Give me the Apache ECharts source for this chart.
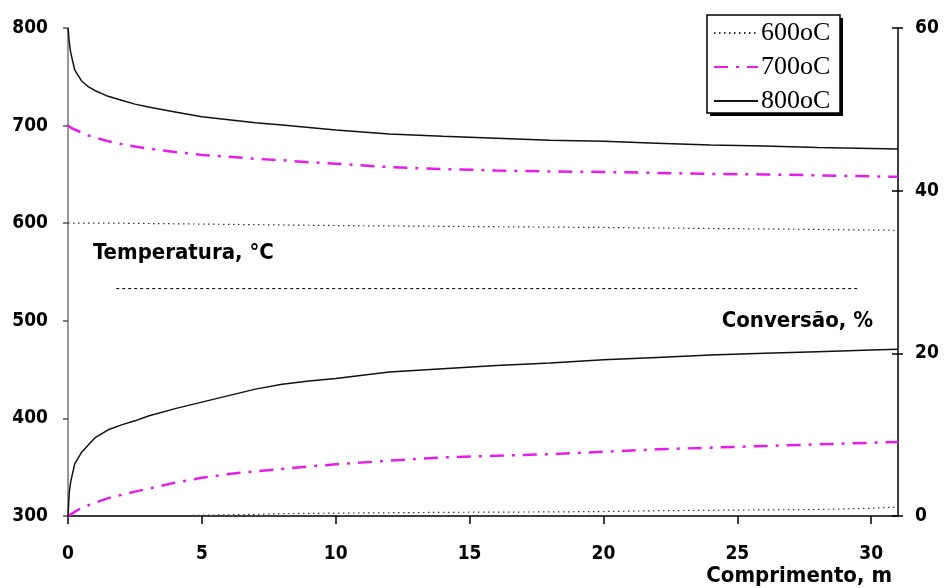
<!DOCTYPE html>
<html>
<head>
<meta charset="utf-8">
<script src="https://cdn.jsdelivr.net/npm/echarts@6/dist/echarts.min.js"></script>
<style>
html,body{margin:0;padding:0;background:#fff;}
#chart{width:946px;height:588px;}
</style>
</head>
<body>
<div id="chart"></div>
<script>
// Comprimento (m)
const lengthM = [0, 0.05, 0.1, 0.25, 0.5, 0.75, 1, 1.5, 2, 2.5, 3, 4, 5, 6, 7, 8, 9, 10, 12, 14, 16, 18, 20, 22, 24, 26, 28, 30, 31];
// Temperatura (°C), left axis
const temp600 = [600, 600, 600, 600, 600, 600, 600, 600, 600, 599.8, 599.7, 599.4, 599.1, 598.8, 598.5, 598.2, 597.9, 597.6, 597.2, 596.8, 596.4, 596, 595.6, 595.1, 594.6, 594.1, 593.6, 593, 592.7];
const temp700 = [700, 699, 698, 696, 693, 690, 688, 684, 681, 678.5, 676.5, 673, 670, 668, 666, 664.5, 662.5, 661, 657.5, 655.5, 654, 653, 652.5, 651.5, 650.5, 650, 649, 648, 647.5];
const temp800 = [800, 785, 775, 757, 746, 740, 736, 730, 726, 722, 719, 714, 709, 706, 703, 700.5, 698, 695.5, 691.5, 689, 687, 685, 684, 682, 680, 679, 677.5, 676.5, 676];
// Conversão (%), right axis
const conv600 = [0, 0, 0, 0, 0, 0, 0, 0, 0, 0, 0, 0, 0.1, 0.15, 0.2, 0.3, 0.32, 0.35, 0.4, 0.45, 0.48, 0.5, 0.55, 0.65, 0.7, 0.75, 0.8, 0.95, 1.1];
const conv700 = [0, 0.1, 0.2, 0.5, 1.0, 1.3, 1.6, 2.2, 2.6, 3.0, 3.35, 4.1, 4.7, 5.15, 5.5, 5.8, 6.1, 6.35, 6.8, 7.2, 7.4, 7.6, 7.9, 8.2, 8.4, 8.6, 8.8, 9.0, 9.1];
const conv800 = [0, 3.0, 4.2, 6.4, 7.8, 8.7, 9.6, 10.6, 11.2, 11.7, 12.3, 13.2, 14.0, 14.8, 15.6, 16.2, 16.6, 16.9, 17.7, 18.1, 18.5, 18.8, 19.2, 19.5, 19.8, 20.0, 20.2, 20.4, 20.5];
// dashed separator between the two groups (left axis units)
const separatorX = [1.8, 29.5];
const separatorY = [533, 533];

const seriesNames = ['600oC', '700oC', '800oC'];
const xTicks = {min: 0, max: 31, interval: 5};
const leftTicks = {min: 300, max: 800, interval: 100};
const rightTicks = {min: 0, max: 60, interval: 20};

const pair = (xs, ys) => xs.map((x, i) => [x, ys[i]]);

const styles = {
  '600oC': {color: '#333', width: 1.2, type: [1.5, 3.5]},
  '700oC': {color: '#e81ce8', width: 2.5, type: [14, 8, 3, 8]},
  '800oC': {color: '#111', width: 1.5, type: 'solid'}
};

function lineSeries(name, data, yAxisIndex) {
  const s = styles[name];
  return {
    name: name, type: 'line', yAxisIndex: yAxisIndex, data: data,
    symbol: 'none', smooth: false, silent: true,
    lineStyle: {color: s.color, width: s.width, type: s.type},
    itemStyle: {color: s.color}
  };
}

const FONT = '"DejaVu Sans Condensed", "DejaVu Sans"';
const labelFont = {fontFamily: FONT, fontWeight: 'bold', fontSize: 19, color: '#000'};

const chart = echarts.init(document.getElementById('chart'), null, {renderer: 'canvas'});
chart.setOption({
  animation: false,
  backgroundColor: '#fff',
  grid: {left: 68, right: 48, top: 28, bottom: 72, containLabel: false},
  legend: {
    data: seriesNames,
    orient: 'vertical',
    left: 713, top: 20,
    padding: 0,
    itemWidth: 44, itemHeight: 14, itemGap: 8,
    backgroundColor: 'transparent',
    borderWidth: 0,
    itemStyle: {opacity: 0},
    textStyle: {fontFamily: 'Liberation Serif', fontSize: 26, color: '#000', padding: [0, 0, 0, -2]},
    selectedMode: false
  },
  xAxis: {
    type: 'value', min: xTicks.min, max: xTicks.max, interval: xTicks.interval,
    axisLine: {show: true, onZero: false, lineStyle: {color: '#000', width: 1.5}},
    axisTick: {show: true, inside: false, length: 8, lineStyle: {color: '#000', width: 1.5}},
    axisLabel: Object.assign({margin: 29, showMaxLabel: false}, labelFont),
    splitLine: {show: false}
  },
  yAxis: [
    {
      type: 'value', position: 'left', min: leftTicks.min, max: leftTicks.max, interval: leftTicks.interval,
      axisLine: {show: true, lineStyle: {color: '#777', width: 1.5}},
      axisTick: {show: true, inside: false, length: 5, lineStyle: {color: '#555', width: 1.5}},
      axisLabel: Object.assign({margin: 20}, labelFont),
      splitLine: {show: false}
    },
    {
      type: 'value', position: 'right', min: rightTicks.min, max: rightTicks.max, interval: rightTicks.interval,
      axisLine: {show: true, lineStyle: {color: '#000', width: 1.5}},
      axisTick: {show: true, inside: false, length: 5, lineStyle: {color: '#000', width: 1.5}},
      axisLabel: Object.assign({margin: 17}, labelFont),
      splitLine: {show: false}
    },
    {
      type: 'value', position: 'right', min: rightTicks.min, max: rightTicks.max, interval: rightTicks.interval,
      axisLine: {show: false},
      axisTick: {show: true, inside: true, length: 6, lineStyle: {color: '#000', width: 1.5}},
      axisLabel: {show: false},
      splitLine: {show: false}
    }
  ],
  graphic: [
    {type: 'rect', z: 1, shape: {x: 710, y: 18, width: 133, height: 98}, style: {fill: '#000'}},
    {type: 'rect', z: 2, shape: {x: 707, y: 15, width: 133, height: 98}, style: {fill: '#fff', stroke: '#000', lineWidth: 1.5}},
    {type: 'text', left: 93, top: 242, style: {text: 'Temperatura, °C', font: 'bold 22px ' + FONT, fill: '#000'}},
    {type: 'text', right: 73, top: 310, style: {text: 'Conversão, %', font: 'bold 22px ' + FONT, fill: '#000'}},
    {type: 'text', right: 54, top: 565, style: {text: 'Comprimento, m', font: 'bold 22px ' + FONT, fill: '#000'}}
  ],
  series: [
    lineSeries('600oC', pair(lengthM, temp600), 0),
    lineSeries('700oC', pair(lengthM, temp700), 0),
    lineSeries('800oC', pair(lengthM, temp800), 0),
    lineSeries('600oC', pair(lengthM, conv600), 1),
    lineSeries('700oC', pair(lengthM, conv700), 1),
    lineSeries('800oC', pair(lengthM, conv800), 1),
    {
      name: 'separator', type: 'line', yAxisIndex: 0, symbol: 'none', silent: true,
      data: pair(separatorX, separatorY),
      lineStyle: {color: '#000', width: 1, type: [3, 3]}
    }
  ]
});
</script>
</body>
</html>
